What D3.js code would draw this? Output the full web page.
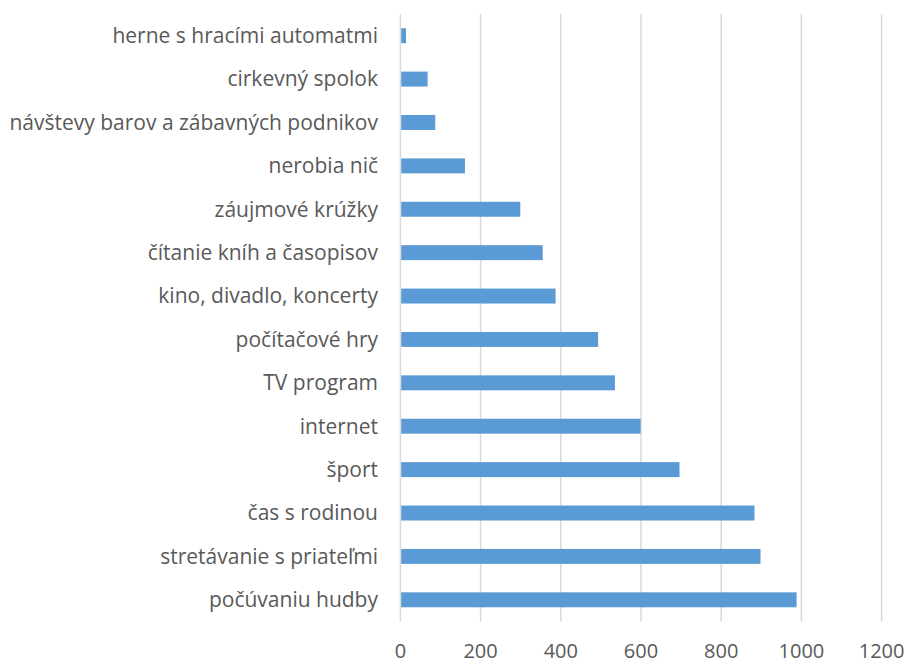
<!DOCTYPE html>
<html><head><meta charset="utf-8">
<script src="https://cdn.jsdelivr.net/npm/d3@7"></script>
<style>body{margin:0;background:#fff}svg{display:block}</style>
</head><body>
<svg id="c" width="909" height="664"></svg>
<script>
const categories = ["herne s hracími automatmi","cirkevný spolok","návštevy barov a zábavných podnikov","nerobia nič","záujmové krúžky","čítanie kníh a časopisov","kino, divadlo, koncerty","počítačové hry","TV program","internet","šport","čas s rodinou","stretávanie s priateľmi","počúvaniu hudby"];
const values = [14,68,87,161,299,355,387,493,535,599,696,883,898,988];
const xTicks = [0,200,400,600,800,1000,1200];

const svg = d3.select("#c");
const m = {left:400.4, right:881.6, top:14, bottom:621.5};
const x = d3.scaleLinear().domain([0,1200]).range([m.left,m.right]);
const y = d3.scaleBand().domain(categories).range([m.top,m.bottom]).paddingInner(0.655).paddingOuter(0.3275);
const font = "'Open Sans', sans-serif";

svg.append("g").selectAll("line").data(xTicks).join("line")
  .attr("x1",d=>x(d)).attr("x2",d=>x(d)).attr("y1",m.top).attr("y2",m.bottom)
  .attr("stroke","#d9d9d9").attr("stroke-width",1.5);

svg.append("g").selectAll("rect").data(categories).join("rect")
  .attr("x",x(0)+0.8).attr("y",d=>y(d))
  .attr("width",(d,i)=>x(values[i])-x(0)-0.8).attr("height",y.bandwidth())
  .attr("fill","#5b9bd5");

svg.append("g").selectAll("text").data(categories).join("text")
  .attr("x",378).attr("y",d=>y(d)+y.bandwidth()/2).attr("dy","0.35em")
  .attr("text-anchor","end").attr("fill","#595959")
  .style("font-family",font).style("font-size","21px").text(d=>d);

svg.append("g").selectAll("text").data(xTicks).join("text")
  .attr("x",d=>x(d)).attr("y",651).attr("dy","0.35em")
  .attr("text-anchor","middle").attr("fill","#595959")
  .style("font-family",font).style("font-size","20px").text(d=>d);
</script>
</body></html>
